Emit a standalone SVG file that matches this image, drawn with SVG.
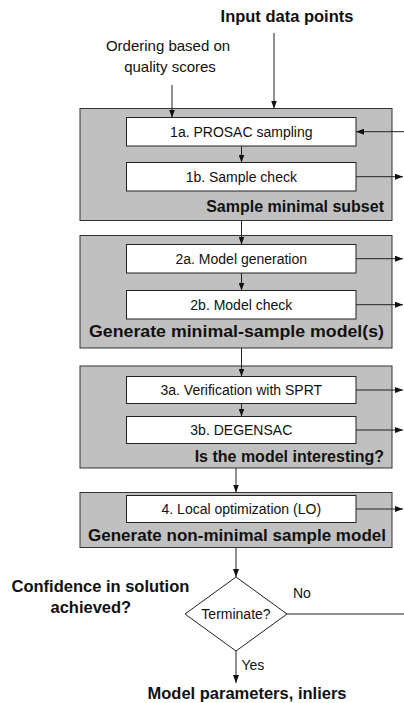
<svg xmlns="http://www.w3.org/2000/svg" width="404" height="703" viewBox="0 0 404 703">
<style>
.grp{fill:#c0c0c0;stroke:#333;stroke-width:1}
.box{fill:#fff;stroke:#222;stroke-width:1}
.t{font-family:"Liberation Sans",Arial,sans-serif;font-size:14px;fill:#111}
.c{text-anchor:middle}
.b{font-family:"Liberation Sans",Arial,sans-serif;font-size:16.5px;font-weight:bold;fill:#111}
.e{text-anchor:end}
.ln{stroke:#222;stroke-width:1;fill:none}
.dia{fill:#fff;stroke:#222;stroke-width:1}
</style>
<defs>
<marker id="ah" viewBox="0 0 8 6" refX="8" refY="3" markerWidth="8" markerHeight="6" markerUnits="userSpaceOnUse" orient="auto">
<path d="M0,0 L8,3 L0,6 z" fill="#111"/>
</marker>
</defs>
<rect width="404" height="703" fill="#fff"/>
<text class="b c" x="287" y="21.5">Input data points</text>
<text class="t c" x="168" y="51" style="font-size:15px">Ordering based on</text>
<text class="t c" x="170" y="72" style="font-size:15px">quality scores</text>

<g id="stage1">
<rect class="grp" x="80" y="108.5" width="312" height="112"/>
<text class="b e" x="384" y="211.5" style="font-size:16px">Sample minimal subset</text>
</g>
<g id="n1a"><rect class="box" x="126.5" y="117.5" width="229.5" height="28.5"/><text class="t c" x="241.3" y="136.7">1a. PROSAC sampling</text></g>
<g id="n1b"><rect class="box" x="126.5" y="162.5" width="229.5" height="28.5"/><text class="t c" x="241.3" y="181.7">1b. Sample check</text></g>

<g id="stage2">
<rect class="grp" x="80" y="235.5" width="312" height="112.5"/>
<text class="b" x="89" y="336.5" style="font-size:17px" textLength="295" lengthAdjust="spacingAndGlyphs">Generate minimal-sample model(s)</text>
</g>
<g id="n2a"><rect class="box" x="126.5" y="244.5" width="229.5" height="28.5"/><text class="t c" x="241.3" y="263.7">2a. Model generation</text></g>
<g id="n2b"><rect class="box" x="126.5" y="290.5" width="229.5" height="28.5"/><text class="t c" x="241.3" y="309.7">2b. Model check</text></g>

<g id="stage3">
<rect class="grp" x="80" y="366" width="312" height="102"/>
<text class="b e" x="384" y="462" style="font-size:16px">Is the model interesting?</text>
</g>
<g id="n3a"><rect class="box" x="126.5" y="376.5" width="229.5" height="27"/><text class="t c" x="241.3" y="395">3a. Verification with SPRT</text></g>
<g id="n3b"><rect class="box" x="126.5" y="416.5" width="229.5" height="27"/><text class="t c" x="241.3" y="435">3b. DEGENSAC</text></g>

<g id="stage4">
<rect class="grp" x="80" y="492.5" width="312" height="55"/>
<text class="b" x="88" y="541" style="font-size:17px" textLength="298" lengthAdjust="spacingAndGlyphs">Generate non-minimal sample model</text>
</g>
<g id="n4"><rect class="box" x="126.5" y="495.5" width="229.5" height="27"/><text class="t c" x="241.3" y="514">4. Local optimization (LO)</text></g>

<g id="decision">
<polygon class="dia" points="236,577 287,614 236,651 185,614"/>
<text class="t c" x="236" y="619">Terminate?</text>
</g>
<text class="b" x="11.5" y="592">Confidence in solution</text>
<text class="b" x="50.5" y="613">achieved?</text>
<text class="b c" x="247" y="699">Model parameters, inliers</text>

<g id="connectors">
<line class="ln" x1="274" y1="33" x2="274" y2="108.5" marker-end="url(#ah)"/>
<line class="ln" x1="172" y1="85" x2="172" y2="117.5" marker-end="url(#ah)"/>
<line class="ln" x1="241.5" y1="146" x2="241.5" y2="162.5" marker-end="url(#ah)"/>
<line class="ln" x1="241.5" y1="220.5" x2="241.5" y2="244.5" marker-end="url(#ah)"/>
<line class="ln" x1="241.5" y1="273" x2="241.5" y2="290.5" marker-end="url(#ah)"/>
<line class="ln" x1="241.5" y1="348" x2="241.5" y2="376.5" marker-end="url(#ah)"/>
<line class="ln" x1="241.5" y1="403.5" x2="241.5" y2="416.5" marker-end="url(#ah)"/>
<line class="ln" x1="236" y1="468" x2="236" y2="492.5" marker-end="url(#ah)"/>
<line class="ln" x1="236" y1="547.5" x2="236" y2="577" marker-end="url(#ah)"/>
<line class="ln" x1="236" y1="651" x2="236" y2="683" marker-end="url(#ah)"/>
<line class="ln" x1="404" y1="131.7" x2="356" y2="131.7" marker-end="url(#ah)"/>
<line class="ln" x1="356" y1="176.7" x2="403" y2="176.7" marker-end="url(#ah)"/>
<line class="ln" x1="356" y1="258.7" x2="403" y2="258.7" marker-end="url(#ah)"/>
<line class="ln" x1="356" y1="304.7" x2="403" y2="304.7" marker-end="url(#ah)"/>
<line class="ln" x1="356" y1="390" x2="403" y2="390" marker-end="url(#ah)"/>
<line class="ln" x1="356" y1="430" x2="403" y2="430" marker-end="url(#ah)"/>
<line class="ln" x1="356" y1="509" x2="403" y2="509" marker-end="url(#ah)"/>
<line class="ln" x1="287" y1="614" x2="404" y2="614"/>
<text class="t" x="293" y="598">No</text>
<text class="t" x="241.5" y="670">Yes</text>
</g>
</svg>
